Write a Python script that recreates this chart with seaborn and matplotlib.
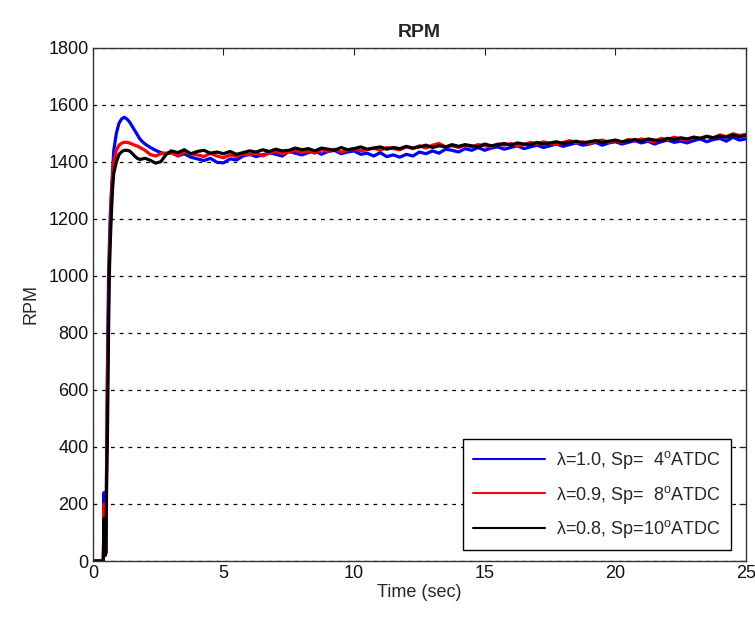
import numpy as np
import pandas as pd
import matplotlib
matplotlib.use("Agg")
import matplotlib.pyplot as plt
import seaborn as sns

# ---- data ----
t_start = [0.0, 0.40, 0.43, 0.45, 0.47, 0.50, 0.53, 0.56, 0.60, 0.63, 0.66, 0.70, 0.75, 0.80,
           0.90, 1.0, 1.1, 1.2, 1.3, 1.4, 1.5, 1.6, 1.7, 1.8, 1.9, 2.0, 2.2, 2.4, 2.6, 2.8]
t_steady = [3.0, 3.25, 3.5, 3.75, 4.0, 4.25, 4.5, 4.75, 5.0, 5.25, 5.5, 5.75,
            6.0, 6.25, 6.5, 6.75, 7.0, 7.25, 7.5, 7.75, 8.0, 8.25, 8.5, 8.75,
            9.0, 9.25, 9.5, 9.75, 10.0, 10.25, 10.5, 10.75, 11.0, 11.25, 11.5, 11.75,
            12.0, 12.25, 12.5, 12.75, 13.0, 13.25, 13.5, 13.75, 14.0, 14.25, 14.5, 14.75,
            15.0, 15.25, 15.5, 15.75, 16.0, 16.25, 16.5, 16.75, 17.0, 17.25, 17.5, 17.75,
            18.0, 18.25, 18.5, 18.75, 19.0, 19.25, 19.5, 19.75, 20.0, 20.25, 20.5, 20.75,
            21.0, 21.25, 21.5, 21.75, 22.0, 22.25, 22.5, 22.75, 23.0, 23.25, 23.5, 23.75,
            24.0, 24.25, 24.5, 24.75, 25.0]

rpm_l10_start = [0, 0, 240, 60, 20, 30, 400, 700, 1000, 1100, 1200, 1280, 1360, 1440,
                 1500, 1535, 1550, 1556, 1550, 1540, 1525, 1510, 1495, 1480, 1470, 1462,
                 1450, 1440, 1432, 1428]
rpm_l10 = [1434, 1420, 1428, 1416, 1410, 1404, 1412, 1398,
           1396, 1410, 1406, 1420, 1426, 1418, 1424, 1432,
           1426, 1420, 1436, 1430, 1424, 1432, 1438, 1426,
           1436, 1440, 1428, 1434, 1438, 1426, 1430, 1420,
           1432, 1418, 1424, 1416, 1426, 1420, 1434, 1428,
           1438, 1430, 1444, 1440, 1434, 1446, 1440, 1450,
           1440, 1448, 1452, 1444, 1450, 1456, 1446, 1452,
           1458, 1450, 1456, 1462, 1454, 1460, 1466, 1458,
           1462, 1468, 1458, 1466, 1470, 1462, 1468, 1474,
           1466, 1472, 1462, 1470, 1476, 1468, 1472, 1466,
           1474, 1480, 1470, 1478, 1482, 1472, 1486, 1476,
           1480]

rpm_l09_start = [0, 0, 200, 60, 20, 30, 380, 650, 900, 1050, 1150, 1250, 1340, 1400,
                 1440, 1458, 1465, 1468, 1468, 1466, 1462, 1458, 1455, 1450, 1445, 1440,
                 1425, 1420, 1428, 1430]
rpm_l09 = [1430, 1422, 1434, 1428, 1424, 1418, 1430, 1420,
           1414, 1424, 1418, 1428, 1424, 1432, 1420, 1430,
           1436, 1428, 1434, 1440, 1432, 1438, 1430, 1442,
           1436, 1444, 1434, 1440, 1446, 1438, 1442, 1448,
           1440, 1450, 1446, 1442, 1452, 1446, 1456, 1448,
           1458, 1464, 1452, 1456, 1450, 1458, 1452, 1460,
           1456, 1452, 1462, 1458, 1464, 1456, 1460, 1468,
           1462, 1470, 1464, 1460, 1468, 1474, 1466, 1470,
           1464, 1472, 1476, 1468, 1474, 1468, 1478, 1472,
           1480, 1474, 1470, 1482, 1478, 1486, 1480, 1476,
           1486, 1482, 1490, 1484, 1494, 1488, 1498, 1492,
           1496]

rpm_l08_start = [0, 0, 150, 40, 20, 30, 300, 450, 800, 1000, 1100, 1200, 1300, 1360,
                 1400, 1425, 1435, 1440, 1440, 1438, 1430, 1420, 1412, 1408, 1410, 1412,
                 1405, 1395, 1400, 1425]
rpm_l08 = [1438, 1432, 1442, 1428, 1436, 1440, 1430, 1434,
           1428, 1436, 1426, 1432, 1438, 1434, 1442, 1436,
           1444, 1438, 1440, 1448, 1442, 1446, 1438, 1448,
           1444, 1440, 1450, 1442, 1446, 1452, 1444, 1448,
           1452, 1444, 1450, 1446, 1454, 1448, 1452, 1458,
           1450, 1456, 1452, 1460, 1454, 1460, 1456, 1452,
           1462, 1456, 1460, 1464, 1458, 1466, 1462, 1460,
           1468, 1462, 1466, 1470, 1464, 1468, 1472, 1466,
           1470, 1474, 1468, 1472, 1476, 1470, 1474, 1478,
           1472, 1480, 1476, 1474, 1482, 1478, 1484, 1480,
           1486, 1482, 1488, 1484, 1490, 1486, 1494, 1488,
           1492]

labels = [r'λ=1.0, Sp=  4$^{\mathrm{o}}$ATDC',
          r'λ=0.9, Sp=  8$^{\mathrm{o}}$ATDC',
          r'λ=0.8, Sp=10$^{\mathrm{o}}$ATDC']
colors = ['#0000ff', '#ff0000', '#000000']
yticks = [0, 200, 400, 600, 800, 1000, 1200, 1400, 1600, 1800]
xticks = [0, 5, 10, 15, 20, 25]

# ---- build frame ----
frames = []
for lab, s0, s1 in zip(labels, [rpm_l10_start, rpm_l09_start, rpm_l08_start],
                       [rpm_l10, rpm_l09, rpm_l08]):
    frames.append(pd.DataFrame({'Time': t_start + t_steady, 'RPM': s0 + s1, 'case': lab}))
df = pd.concat(frames, ignore_index=True)

sns.set_style("white")
plt.rcParams['font.family'] = ['Liberation Sans', 'DejaVu Sans']
plt.rcParams['mathtext.fontset'] = 'custom'
plt.rcParams['mathtext.rm'] = 'Liberation Sans'
plt.rcParams['mathtext.it'] = 'Liberation Sans'

fig = plt.figure(figsize=(7.55, 6.23), dpi=100)
ax = fig.add_axes([0.123, 0.0995, 0.865, 0.824])

sns.lineplot(data=df, x='Time', y='RPM', hue='case', palette=colors,
             estimator=None, sort=False, linewidth=2.3, ax=ax)

ax.set_xlim(0, 25)
ax.set_ylim(0, 1800)
ax.set_xticks(xticks)
ax.set_yticks(yticks)
ax.tick_params(direction='in', top=True, right=True, length=5, width=0.8,
               labelsize=13, colors='#222222', labelcolor='#111111', pad=3)
for sp in ax.spines.values():
    sp.set_visible(True)
    sp.set_color('#333333')
    sp.set_linewidth(1.0)
ax.yaxis.grid(True, linestyle=(0, (3, 4)), color='black', linewidth=0.9)
ax.xaxis.grid(False)
ax.set_axisbelow(True)

ax.set_title('RPM', fontsize=14, fontweight='bold', pad=8)
ax.set_xlabel('Time (sec)', fontsize=13, labelpad=1)
ax.set_ylabel('RPM', fontsize=13, labelpad=6)

leg = ax.legend(loc='lower right', fontsize=13, frameon=True, fancybox=False,
                edgecolor='black', framealpha=1, borderpad=0.55, labelspacing=0.7,
                handlelength=4.0, handletextpad=0.6, borderaxespad=0,
                bbox_to_anchor=(0.977, 0.021))
leg.get_frame().set_linewidth(1.0)
for line in leg.get_lines():
    line.set_linewidth(1.5)

fig.savefig('out.png', dpi=100, facecolor='white')
